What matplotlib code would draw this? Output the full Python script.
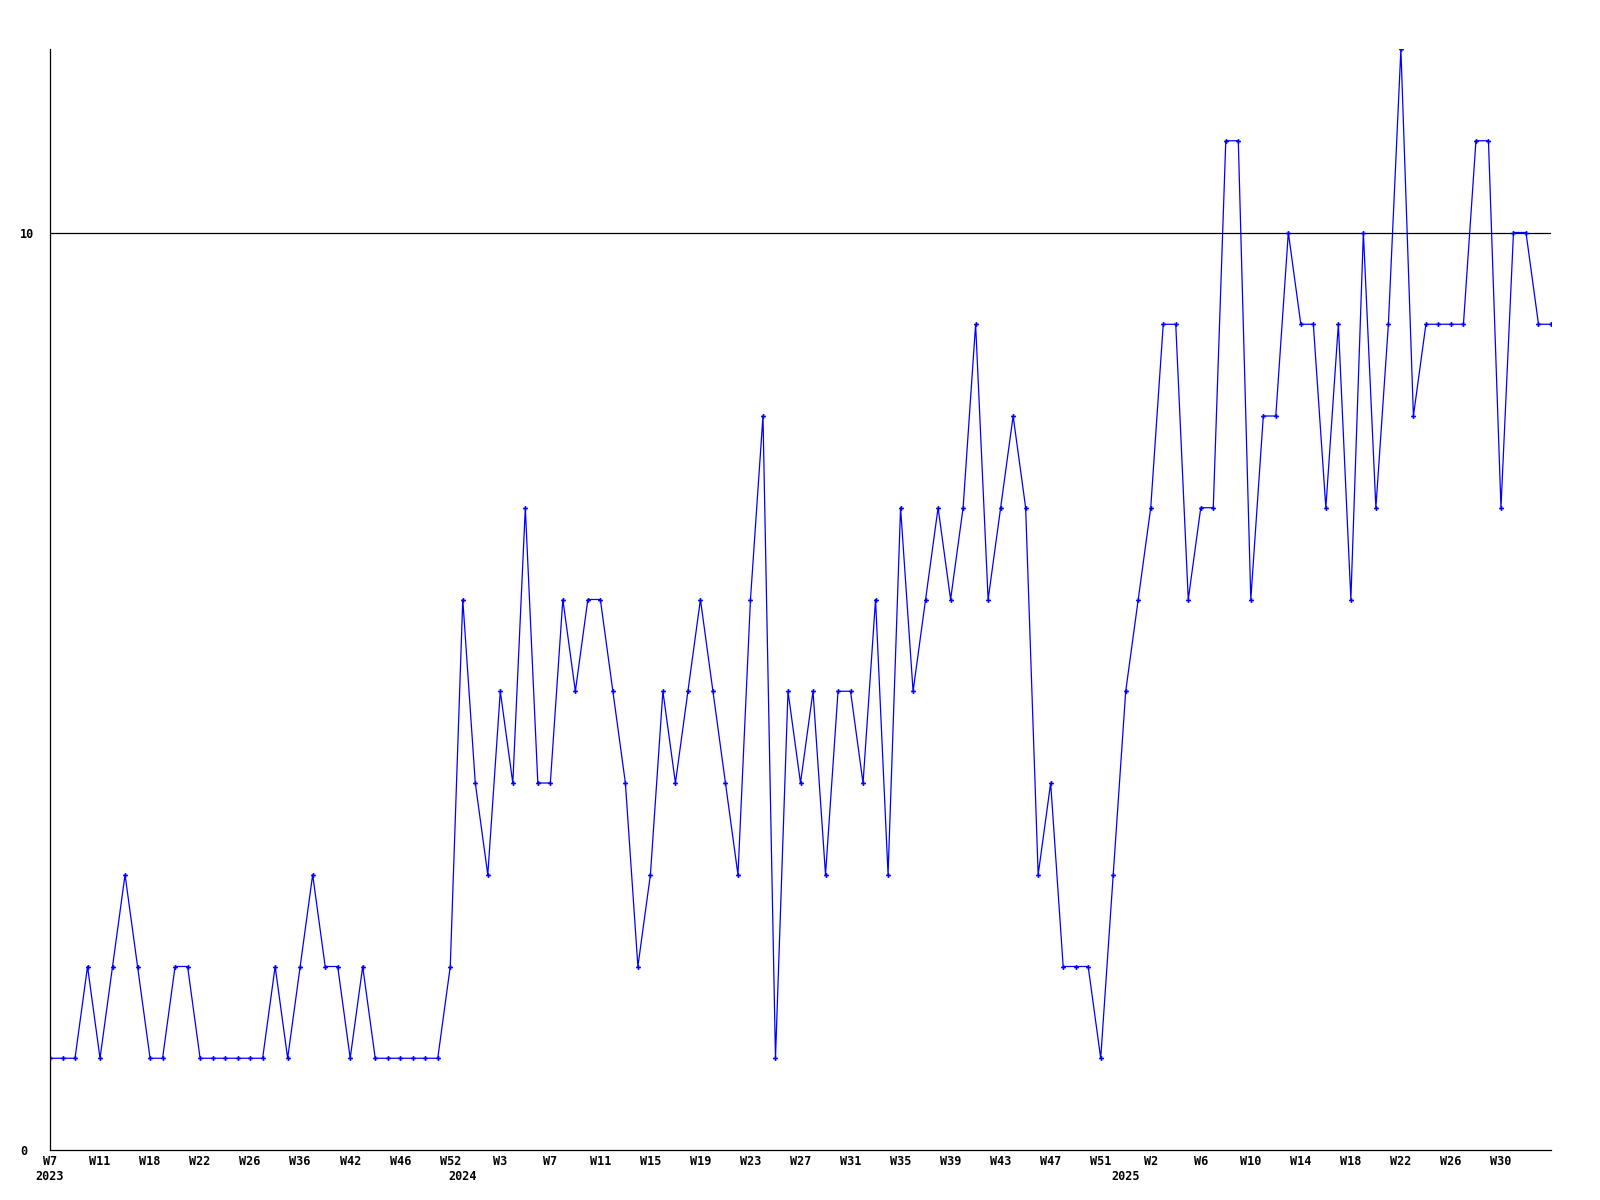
import matplotlib
matplotlib.use('Agg')
import matplotlib.pyplot as plt
import matplotlib.transforms as mtransforms

# weekly counts, one point per week
values = [1, 1, 1, 2, 1, 2, 3, 2, 1, 1, 2, 2, 1, 1, 1, 1, 1, 1, 2, 1,
          2, 3, 2, 2, 1, 2, 1, 1, 1, 1, 1, 1, 2, 6, 4, 3, 5, 4, 7, 4,
          4, 6, 5, 6, 6, 5, 4, 2, 3, 5, 4, 5, 6, 5, 4, 3, 6, 8, 1, 5,
          4, 5, 3, 5, 5, 4, 6, 3, 7, 5, 6, 7, 6, 7, 9, 6, 7, 8, 7, 3,
          4, 2, 2, 2, 1, 3, 5, 6, 7, 9, 9, 6, 7, 7, 11, 11, 6, 8, 8, 10,
          9, 9, 7, 9, 6, 10, 7, 9, 12, 8, 9, 9, 9, 9, 11, 11, 7, 10, 10, 9,
          9]

# tick label every 4th week
week_labels = ['W7', 'W11', 'W18', 'W22', 'W26', 'W36', 'W42', 'W46', 'W52', 'W3',
               'W7', 'W11', 'W15', 'W19', 'W23', 'W27', 'W31', 'W35', 'W39', 'W43',
               'W47', 'W51', 'W2', 'W6', 'W10', 'W14', 'W18', 'W22', 'W26', 'W30']
tick_step = 4

years = ['2023', '2024', '2025']
year_pos = [0, 33, 86]

x = list(range(len(values)))

fig = plt.figure(figsize=(16, 12), dpi=100)
ax = fig.add_axes([50/1600, 1 - 1150/1200, 1501/1600, (1150 - 49)/1200])

ax.axhline(10, color='black', linewidth=0.9, zorder=1)
ax.plot(x, values, color='#0000ff', linewidth=0.9, marker='P', markersize=3.5,
        markeredgewidth=0, zorder=2)

ax.set_xlim(0, len(values) - 1)
ax.set_ylim(0, 12)

for side in ['top', 'right']:
    ax.spines[side].set_visible(False)
for side in ['left', 'bottom']:
    ax.spines[side].set_linewidth(0.9)

font = dict(family='DejaVu Sans Mono', weight='bold', size=8.5)

ax.set_xticks([i * tick_step for i in range(len(week_labels))])
ax.set_xticklabels(week_labels, **font)
ax.tick_params(axis='x', length=0, pad=3.5)

ax.set_yticks([0, 10])
ax.set_yticklabels(['0', '10'], **font)
ax.tick_params(axis='y', length=0, pad=21.6)
for lbl in ax.get_yticklabels():
    lbl.set_horizontalalignment('left')

trans = mtransforms.blended_transform_factory(ax.transData, fig.transFigure)
for yr, pos in zip(years, year_pos):
    ax.text(pos, 1 - 1177/1200, yr, transform=trans, ha='center', va='center', **font)

plt.savefig('out.png', dpi=100)
